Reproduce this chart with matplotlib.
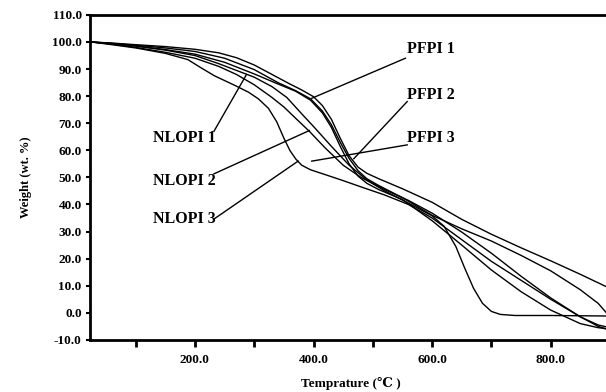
import matplotlib
matplotlib.use('Agg')
import matplotlib.pyplot as plt
from matplotlib.ticker import FixedLocator

# TGA curves (temperature in C, weight in wt. %)
pfpi1_t = [25, 60, 100, 150, 200, 240, 270, 300, 330, 360, 380, 400, 415, 430, 445, 460, 475, 490, 510, 550, 600, 650, 700, 750, 800, 850, 900]
pfpi1_w = [100, 99.6, 99.0, 98.3, 97.3, 96.0, 94.2, 91.5, 88.0, 84.5, 82.3, 79.8, 76.5, 71.5, 64.5, 58.0, 53.8, 51.5, 49.5, 45.8, 40.8, 34.5, 29.0, 24.0, 19.2, 14.2, 9.0]

pfpi2_t = [25, 60, 100, 150, 200, 250, 300, 340, 370, 395, 415, 430, 445, 460, 475, 490, 510, 550, 600, 650, 700, 750, 800, 850, 880, 900]
pfpi2_w = [100, 99.5, 98.8, 97.8, 96.5, 94.0, 89.8, 85.0, 82.0, 79.0, 74.5, 69.5, 63.0, 57.0, 52.5, 49.5, 47.0, 42.5, 36.0, 31.0, 26.5, 21.2, 15.5, 8.5, 3.5, -1.5]

pfpi3_t = [25, 60, 100, 150, 200, 250, 300, 340, 370, 395, 415, 430, 445, 460, 475, 490, 510, 550, 600, 650, 700, 750, 800, 850, 880, 900]
pfpi3_w = [100, 99.3, 98.5, 97.2, 95.5, 92.5, 88.2, 84.5, 81.8, 78.5, 73.8, 68.5, 61.5, 55.0, 50.5, 47.8, 45.5, 41.8, 34.0, 25.0, 15.8, 7.8, 1.0, -4.0, -5.5, -6.0]

nlopi1_t = [25, 60, 100, 150, 200, 240, 270, 300, 330, 355, 380, 400, 430, 460, 490, 520, 560, 600, 620, 640, 655, 670, 685, 700, 715, 740, 800, 900]
nlopi1_w = [100, 99.4, 98.5, 97.0, 95.0, 92.0, 89.5, 87.0, 83.5, 79.5, 73.5, 68.8, 61.5, 54.5, 49.0, 45.0, 40.5, 35.8, 32.0, 24.5, 16.5, 9.0, 3.5, 0.5, -0.6, -1.0, -1.0, -1.2]

nlopi2_t = [25, 60, 100, 150, 200, 240, 270, 300, 330, 350, 370, 393, 420, 450, 480, 520, 560, 600, 650, 700, 750, 800, 850, 880, 900]
nlopi2_w = [100, 99.2, 98.0, 96.2, 94.0, 91.0, 88.0, 84.2, 79.5, 76.0, 71.8, 67.0, 60.8, 54.5, 50.0, 45.5, 41.5, 36.8, 29.8, 22.0, 13.5, 5.5, -1.5, -4.5, -5.5]

nlopi3_t = [25, 60, 100, 150, 188, 210, 233, 267, 290, 307, 324, 338, 350, 360, 370, 380, 395, 420, 450, 480, 520, 560, 600, 650, 700, 750, 800, 850, 880, 900]
nlopi3_w = [100, 99.0, 97.8, 95.8, 93.5, 90.5, 87.5, 84.0, 81.5, 79.0, 75.5, 70.5, 64.5, 60.0, 56.8, 54.5, 52.8, 51.0, 48.8, 46.5, 43.5, 40.0, 35.0, 27.0, 19.0, 12.0, 5.0, -1.5, -5.0, -6.5]

curves = [(pfpi1_t, pfpi1_w), (pfpi2_t, pfpi2_w), (pfpi3_t, pfpi3_w),
          (nlopi1_t, nlopi1_w), (nlopi2_t, nlopi2_w), (nlopi3_t, nlopi3_w)]

# label text, text anchor, pointer line (data coords)
labels = ['PFPI 1', 'PFPI 2', 'PFPI 3', 'NLOPI 1', 'NLOPI 2', 'NLOPI 3']
label_xy = [(557, 97.5), (557, 80.5), (557, 64.5), (235, 64.5), (235, 48.5), (235, 34.5)]
label_ha = ['left', 'left', 'left', 'right', 'right', 'right']
leader_from = [(555, 94.0), (558, 78.0), (558, 62.0), (232, 67.0), (232, 51.3), (232, 34.6)]
leader_to = [(397, 79.2), (468, 56.9), (397, 56.0), (287, 88.0), (393, 67.3), (374, 56.0)]

serif = ['Liberation Serif', 'DejaVu Serif', 'Noto Sans CJK SC']

fig = plt.figure(figsize=(6.06, 3.92), dpi=100)
ax = fig.add_axes([0.1485, 0.133, 0.86, 0.829])

for t, w in curves:
    ax.plot(t, w, color='black', linewidth=1.0)

for lab, xy, ha, p0, p1 in zip(labels, label_xy, label_ha, leader_from, leader_to):
    ax.plot([p0[0], p1[0]], [p0[1], p1[1]], color='black', linewidth=1.0)
    ax.text(xy[0], xy[1], lab, ha=ha, va='center', fontsize=11.5,
            fontweight='bold', family=serif)

ax.set_xlim(23, 902)
ax.set_ylim(-10, 110)

ax.xaxis.set_major_locator(FixedLocator([200, 400, 600, 800]))
ax.xaxis.set_minor_locator(FixedLocator([100, 300, 500, 700, 900]))
ax.set_xticklabels(['200.0', '400.0', '600.0', '800.0'])
ax.set_yticks(range(-10, 111, 10))
ax.set_yticklabels([f'{v:.1f}' for v in range(-10, 111, 10)])

for lbl in ax.get_xticklabels() + ax.get_yticklabels():
    lbl.set_fontweight('bold')
    lbl.set_family(serif)
    lbl.set_fontsize(9.5)

ax.tick_params(axis='x', which='both', direction='out', length=5, width=2, pad=5)
ax.tick_params(axis='y', which='major', direction='out', length=3, width=1.5, pad=3)

for side in ['left', 'bottom', 'top']:
    ax.spines[side].set_linewidth(2)
ax.spines['right'].set_visible(False)

ax.set_ylabel('Weight (wt. %)', fontsize=9, fontweight='bold', family=serif, labelpad=14)
ax.set_xlabel('Temprature (\u2103 )', fontsize=9.5, fontweight='bold', family=serif, labelpad=8)

fig.savefig('out.png', dpi=100, facecolor='white')
